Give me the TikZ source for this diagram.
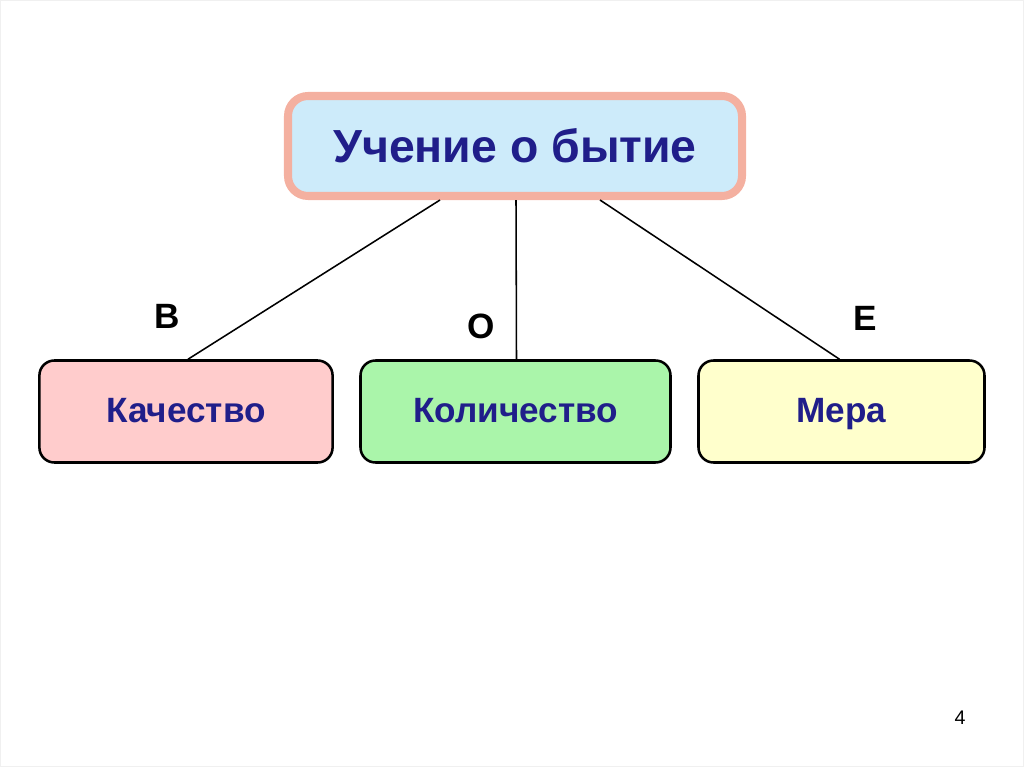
\documentclass[tikz,border=0pt]{standalone}
\usepackage{fontspec}
\setmainfont{Liberation Sans}
\usetikzlibrary{positioning}

\definecolor{titleblue}{RGB}{32,30,138}
\definecolor{salmonframe}{RGB}{244,176,160}
\definecolor{skyfill}{RGB}{205,235,250}
\definecolor{pinkfill}{RGB}{255,204,204}
\definecolor{greenfill}{RGB}{170,245,170}
\definecolor{yellowfill}{RGB}{255,255,204}

\tikzset{
    topbox/.style={draw=salmonframe, line width=5.7pt, fill=skyfill, rounded corners=0.5cm,
        minimum width=11.35cm, minimum height=2.5cm, text=titleblue,
        font=\fontsize{33}{36}\selectfont\bfseries},
    subbox/.style={draw=black, line width=1.8pt, rounded corners=0.375cm,
        minimum height=2.55cm, text height=0.75cm, text depth=0.18cm,
        text=titleblue, font=\fontsize{25}{28}\selectfont\bfseries},
    letter/.style={font=\fontsize{25}{28}\selectfont\bfseries},
    branch/.style={line width=1.1pt}
}

\begin{document}
\begin{tikzpicture}
    % Slide frame
    \useasboundingbox (0,0) rectangle (25.6,-19.175);
    \draw[gray!12, line width=0.6pt] (0.01,-0.01) rectangle (25.59,-19.165);

    % Main box
    \node[topbox] (teaching) at (12.875, -3.65) {Учение о бытие};

    % Three categories
    \node[subbox, fill=pinkfill, minimum width=7.33cm] (quality) at (4.65, -10.2875) {Качество};
    \node[subbox, fill=greenfill, minimum width=7.75cm] (quantity) at (12.8875, -10.2875) {Количество};
    \node[subbox, fill=yellowfill, minimum width=7.15cm] (measure) at (21.0375, -10.2875) {Мера};

    % Branches
    \draw[branch] ([xshift=-1.875cm]teaching.south) -- ([xshift=0.05cm]quality.north);
    \draw[branch] ([xshift=0.025cm]teaching.south) -- ([xshift=0.025cm]quantity.north);
    \draw[branch] ([xshift=2.125cm]teaching.south) -- ([xshift=-0.05cm]measure.north);

    % Letters
    \node[letter] (lettB) at (4.175, -7.9) {В};
    \node[letter] (lettO) at (12.025, -8.15) {О};
    \node[letter] (lettE) at (21.625, -7.95) {Е};

    % Page number
    \node[font=\fontsize{14}{16}\selectfont] (pagenum) at (24.0, -17.95) {4};
\end{tikzpicture}
\end{document}
